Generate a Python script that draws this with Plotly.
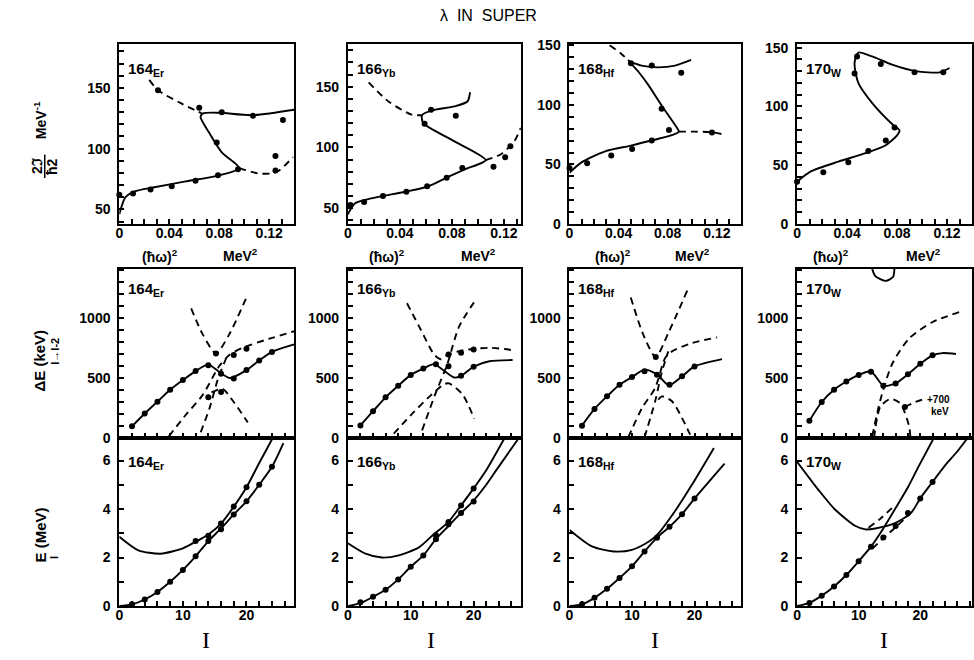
import plotly.graph_objects as go

# ---------------- row 1 : 2J/hbar^2 (MeV^-1) vs (hbar omega)^2 (MeV^2) ----------------
er_j_pts = [(0.000, 62), (0.011, 63), (0.025, 66.4), (0.042, 69), (0.061, 73.6), (0.079, 78),
            (0.095, 83), (0.078, 105), (0.064, 133.6), (0.031, 148), (0.082, 130), (0.107, 127),
            (0.131, 123.5), (0.125, 94), (0.125, 82)]
er_j_solid = [(0.000, 46), (0.005, 60), (0.013, 65), (0.027, 68), (0.053, 73), (0.080, 78), (0.096, 84),
              (0.082, 97), (0.072, 113), (0.065, 126), (0.067, 129), (0.080, 129.5), (0.106, 127.5),
              (0.140, 132)]
er_j_dash_up = [(0.024, 156.6), (0.031, 148), (0.050, 137), (0.066, 129)]
er_j_dash_lo = [(0.096, 84), (0.111, 79.6), (0.122, 79.6), (0.128, 82), (0.139, 93)]

yb_j_pts = [(0.002, 52.7), (0.0125, 55), (0.027, 60), (0.045, 63.5), (0.061, 68), (0.076, 75),
            (0.088, 83), (0.112, 84), (0.121, 92), (0.125, 101), (0.059, 119.5), (0.064, 131),
            (0.083, 126)]
yb_j_solid = [(0.000, 45), (0.0056, 54), (0.018, 58), (0.044, 63.5), (0.062, 68), (0.077, 75.7),
              (0.090, 82), (0.106, 89.5), (0.082, 105), (0.058, 120), (0.057, 126.5), (0.064, 130.3),
              (0.082, 133.8), (0.092, 137.8), (0.094, 145.4)]
yb_j_dash_up = [(0.016, 153.5), (0.031, 138), (0.049, 127), (0.057, 126.5)]
yb_j_dash_lo = [(0.106, 89.5), (0.118, 94.6), (0.128, 105), (0.133, 116)]

hf_j_pts = [(0.000, 47), (0.0144, 51), (0.034, 57.5), (0.051, 63), (0.067, 70), (0.081, 79),
            (0.075, 96.7), (0.050, 135), (0.067, 133), (0.091, 127), (0.116, 76.7)]
hf_j_solid = [(0.000, 43), (0.0095, 51.5), (0.029, 61), (0.050, 65.8), (0.069, 70.7), (0.084, 74.8),
              (0.089, 77.5), (0.086, 83), (0.075, 99.5), (0.064, 117), (0.056, 128), (0.0498, 135.6),
              (0.0585, 133), (0.072, 131.5), (0.086, 133), (0.099, 137.8)]
hf_j_dash_up = [(0.0327, 150), (0.042, 143), (0.0498, 135.6)]
hf_j_dash_lo = [(0.089, 77.5), (0.102, 77.5), (0.116, 77), (0.125, 75.3)]

w_j_pts = [(0.000, 36), (0.021, 44), (0.041, 52.5), (0.057, 62), (0.071, 71), (0.078, 82),
           (0.046, 128), (0.048, 142.5), (0.067, 136), (0.094, 129), (0.117, 129)]
w_j_solid = [(0.000, 36), (0.011, 44.7), (0.033, 53), (0.054, 60), (0.071, 67), (0.080, 75.4),
             (0.082, 79.6), (0.076, 85), (0.060, 103), (0.049, 120), (0.046, 137), (0.049, 145.8),
             (0.060, 142.5), (0.076, 135.5), (0.095, 130), (0.114, 129), (0.122, 132.7)]

# ---------------- row 2 : Delta E (keV), I -> I-2, vs I ----------------
er_de_pts = [(2, 97), (4, 204), (6, 303), (8, 402), (10, 483), (12, 558), (14, 606), (16, 536),
             (18, 496), (20, 566), (22, 646), (24, 718),
             (14, 340), (16, 383), (18, 692), (20, 745), (15.2, 705)]
er_de_solid = [(2, 97), (4, 204), (6, 303), (8, 402), (10, 483), (12, 558), (14, 612), (16, 540),
               (17.4, 500), (20, 566), (22, 646), (24, 718), (27.5, 780)]
er_de_dash_v = [(11.3, 1080), (13.1, 866), (15.2, 705), (17.3, 866), (19.9, 1160)]
er_de_dash_a = [(7.8, 15), (10.5, 196), (13.1, 357), (15.7, 598), (17.3, 692), (19.4, 753),
                (23.5, 826), (27.5, 890)]
er_de_dash_b = [(12.8, 48), (14.2, 250), (15.5, 490), (16.8, 665)]
er_de_dash_c = [(14.5, 380), (16.2, 410), (18.0, 300), (20.2, 130)]

yb_de_pts = [(2, 105), (4, 223), (6, 339), (8, 435), (10, 526), (12, 579), (14, 614), (16, 598),
             (18, 518), (20, 595), (16, 697), (18, 711), (20, 738)]
yb_de_solid = [(2, 105), (4, 223), (6, 339), (8, 435), (10, 526), (12, 579), (13.7, 616), (15.3, 560),
               (16.9, 504), (18, 518), (20, 595), (22.5, 640), (26.2, 650)]
yb_de_dash_v = [(9.4, 1124), (11.6, 903), (13.7, 697), (14.8, 656), (15.8, 691), (18.2, 730),
                (22.5, 752), (26.2, 733)]
yb_de_dash_a = [(7.3, 36), (10.2, 201), (13.4, 366), (15.3, 449), (16.1, 455), (18.2, 366), (20.1, 160)]
yb_de_dash_b = [(11.8, 63), (13.9, 366), (15.8, 614), (17.7, 931), (20.5, 1165)]

hf_de_pts = [(2, 103), (4, 242), (6, 347), (8, 444), (10, 508), (12, 556), (14, 528), (16, 444),
             (18, 514), (20, 597), (13.8, 675)]
hf_de_solid = [(2, 103), (4, 242), (6, 347), (8, 444), (10, 508), (12, 570), (14, 530), (15.9, 439),
               (18, 514), (20, 597), (24.4, 658)]
hf_de_dash_v = [(9.8, 1172), (11.8, 861), (13.8, 675), (15.8, 875), (18.9, 1236)]
hf_de_dash_a = [(9.4, 6), (11.6, 250), (13.7, 417), (15.3, 667), (16.4, 722), (19.6, 792), (23.6, 839)]
hf_de_dash_b = [(12.0, 6), (13.7, 306), (14.8, 556), (15.8, 722)]
hf_de_dash_c = [(14.2, 320), (14.8, 347), (16.4, 306), (19.3, 28)]

w_de_pts = [(2, 144), (4, 300), (6, 403), (8, 471), (10, 526), (12, 553), (14, 436), (16, 455),
            (18, 531), (20, 619), (22, 689), (17.5, 259)]
w_de_solid = [(2, 144), (4, 300), (6, 403), (8, 471), (10, 526), (12, 556), (14, 436), (16, 455),
              (18, 531), (20, 619), (22, 689), (23.6, 708), (25.8, 700)]
w_de_dash_a = [(12.2, 14), (13.5, 313), (15.4, 613), (18.2, 831), (22.0, 967), (26.3, 1049)]
w_de_dash_b = [(12.5, 0), (13.5, 259), (15.2, 327), (16.8, 286), (18.2, 95), (18.4, 0)]
w_de_pointer = [(17.5, 259), (19.2, 300), (21.0, 330)]
w_de_top = [(12.2, 1410), (12.7, 1350), (14.4, 1310), (15.6, 1345), (15.8, 1410)]

# ---------------- row 3 : E_I (MeV) vs I ----------------
er_e_pts = [(2, 0.07), (4, 0.27), (6, 0.58), (8, 1.0), (10, 1.49), (12, 2.05), (14, 2.68), (16, 3.17),
            (18, 3.78), (20, 4.32), (22, 5.0), (24, 5.74),
            (12, 2.68), (14, 2.9), (16, 3.4), (18, 4.1), (20, 4.9)]
er_e_ground = [(0, 0), (2, 0.07), (4, 0.27), (6, 0.58), (8, 1.0), (10, 1.49), (12, 2.05), (14, 2.68),
               (16, 3.2), (18, 3.78), (20, 4.32), (22, 5.0), (24, 5.74), (25.8, 6.72)]
er_e_band = [(0, 2.86), (3, 2.3), (6.5, 2.16), (10, 2.38), (12, 2.65), (14, 2.95), (16, 3.4),
             (18, 4.1), (20, 4.9), (22, 5.9), (24.1, 6.92)]

yb_e_pts = [(2, 0.16), (4, 0.38), (6, 0.67), (8, 1.1), (10, 1.62), (12, 2.09), (14, 2.76), (16, 3.37),
            (18, 3.84), (20, 4.31), (14, 2.92), (16, 3.47), (18, 4.15), (20, 4.85)]
yb_e_ground = [(0, 0), (2, 0.12), (4, 0.38), (6, 0.67), (8, 1.1), (10, 1.62), (12, 2.09), (14, 2.76),
               (16, 3.3), (18, 3.84), (20, 4.35), (22, 5.0), (24, 5.75), (27, 6.86)]
yb_e_band = [(0, 2.59), (2.8, 2.16), (5.4, 2.0), (8.1, 2.09), (11.3, 2.42), (13.4, 2.9), (16, 3.47),
             (18, 4.15), (20, 4.85), (22, 5.6), (24.9, 6.92)]

hf_e_pts = [(2, 0.07), (4, 0.34), (6, 0.71), (8, 1.16), (10, 1.64), (12, 2.25), (14, 2.82), (16, 3.27),
            (18, 3.79), (20, 4.43)]
hf_e_ground = [(0, 0), (2, 0.07), (4, 0.34), (6, 0.71), (8, 1.16), (10, 1.64), (12, 2.25), (14, 2.82),
               (16, 3.27), (18, 3.79), (20, 4.43), (24.8, 5.87)]
hf_e_band = [(0, 3.14), (3.6, 2.46), (7.1, 2.25), (10, 2.32), (12.7, 2.66), (14, 2.93), (17, 3.96),
             (19.7, 5.05), (23.1, 6.52)]

w_e_pts = [(2, 0.13), (4, 0.43), (6, 0.81), (8, 1.28), (10, 1.85), (12, 2.45), (14, 2.83), (16, 3.3),
           (18, 3.84), (20, 4.44), (22, 5.12)]
w_e_steep = [(0, 0), (2, 0.13), (4, 0.43), (6, 0.81), (8, 1.28), (10, 1.85), (12, 2.45), (14, 3.2),
             (16, 4.04), (18, 4.9), (19.8, 5.79), (22.2, 6.93)]
w_e_band = [(0, 5.95), (3.5, 4.78), (6.2, 3.97), (9.5, 3.3), (11.1, 3.16), (12.7, 3.2), (16, 3.43),
            (18.5, 3.84), (20, 4.44), (22, 5.12), (24.2, 5.85), (25.8, 6.31), (27.6, 6.9)]
w_e_dash_a = [(11.6, 3.23), (13.5, 3.6), (15.4, 4.04)]
w_e_dash_b = [(12.2, 2.36), (14, 2.8), (16, 3.25), (18.2, 3.77)]

nuclei = ["164", "166", "168", "170"]
elements = ["Er", "Yb", "Hf", "W"]

# (row, col, points, solid curves, dashed curves)
panels = [
    (0, 0, er_j_pts, [er_j_solid], [er_j_dash_up, er_j_dash_lo]),
    (0, 1, yb_j_pts, [yb_j_solid], [yb_j_dash_up, yb_j_dash_lo]),
    (0, 2, hf_j_pts, [hf_j_solid], [hf_j_dash_up, hf_j_dash_lo]),
    (0, 3, w_j_pts, [w_j_solid], []),
    (1, 0, er_de_pts, [er_de_solid], [er_de_dash_v, er_de_dash_a, er_de_dash_b, er_de_dash_c]),
    (1, 1, yb_de_pts, [yb_de_solid], [yb_de_dash_v, yb_de_dash_a, yb_de_dash_b]),
    (1, 2, hf_de_pts, [hf_de_solid], [hf_de_dash_v, hf_de_dash_a, hf_de_dash_b, hf_de_dash_c]),
    (1, 3, w_de_pts, [w_de_solid, w_de_top], [w_de_dash_a, w_de_dash_b, w_de_pointer]),
    (2, 0, er_e_pts, [er_e_ground, er_e_band], []),
    (2, 1, yb_e_pts, [yb_e_ground, yb_e_band], []),
    (2, 2, hf_e_pts, [hf_e_ground, hf_e_band], []),
    (2, 3, w_e_pts, [w_e_steep, w_e_band], [w_e_dash_a, w_e_dash_b]),
]

W, H = 974, 660
cols_px = [(116, 292), (346, 520), (569, 742), (798, 974)]
rows_px = [(38, 222), (268, 441), (441, 613)]
FONT = "Liberation Sans"

fig = go.Figure()


def suffix(r, c):
    n = r * 4 + c + 1
    return "" if n == 1 else str(n)


def add_line(r, c, pts, dash=None):
    s = suffix(r, c)
    xs, ys = zip(*pts)
    fig.add_trace(go.Scatter(
        x=xs, y=ys, mode="lines", xaxis="x" + s, yaxis="y" + s,
        line=dict(color="black", width=1.9, dash=dash, shape="spline", smoothing=0.7),
        hoverinfo="skip", showlegend=False))


for r, c, pts, solids, dashes in panels:
    for cur in solids:
        add_line(r, c, cur)
    for cur in dashes:
        add_line(r, c, cur, dash="7px,5px")
    s = suffix(r, c)
    xs, ys = zip(*pts)
    fig.add_trace(go.Scatter(
        x=xs, y=ys, mode="markers", xaxis="x" + s, yaxis="y" + s, cliponaxis=False,
        marker=dict(color="black", size=6), hoverinfo="skip", showlegend=False))


def small_ticks(step, stop):
    vals = []
    k = 0
    while k * step <= stop + 1e-9:
        vals.append(round(k * step, 4))
        k += 1
    return dict(tickmode="array", tickvals=vals, ticks="inside", ticklen=5, tickwidth=1.5,
                tickcolor="black", showgrid=False)


axis_style = dict(showline=True, linecolor="black", linewidth=2, mirror=True, ticks="inside",
                  ticklen=5, tickwidth=1.5, tickcolor="black", showgrid=False, zeroline=False,
                  tickmode="array",
                  tickfont=dict(family=FONT, size=14, color="black", weight="bold"))

j_xrange = [[0, 0.14], [0, 0.133], [0, 0.14], [0, 0.14]]
j_yrange = [[38, 186], [37, 185], [0, 151], [0, 153]]
i_xrange = [[0, 27.5], [0, 27.5], [0, 27.5], [0, 28.4]]

layout = {}
for r in range(3):
    for c in range(4):
        s = suffix(r, c)
        x0, x1 = cols_px[c]
        y0, y1 = rows_px[r]
        xa = dict(axis_style, domain=[x0 / W, x1 / W], anchor="y" + s, ticklabelstandoff=-5)
        ya = dict(axis_style, domain=[1 - y1 / H, 1 - y0 / H], anchor="x" + s, ticklabelstandoff=4)
        if r == 0:
            xa.update(range=j_xrange[c], tickvals=[0, 0.04, 0.08, 0.12],
                      ticktext=["0", "0.04", "0.08", "0.12"], minor=small_ticks(0.01, j_xrange[c][1]))
            yl = [50, 100, 150] if c < 2 else [0, 50, 100, 150]
            ya.update(range=j_yrange[c], tickvals=yl, minor=small_ticks(10, j_yrange[c][1]))
        elif r == 1:
            xa.update(range=i_xrange[c], showticklabels=False, tickvals=[0, 10, 20],
                      minor=small_ticks(2, i_xrange[c][1]))
            ya.update(range=[0, 1410], tickvals=[0, 500, 1000], minor=small_ticks(100, 1400))
        else:
            xa.update(range=i_xrange[c], tickvals=[0, 10, 20], minor=small_ticks(2, i_xrange[c][1]))
            ya.update(range=[0, 6.93], tickvals=[0, 2, 4, 6], minor=small_ticks(1, 6.9))
        layout["xaxis" + s] = xa
        layout["yaxis" + s] = ya


def px_note(x, y, text, size=14, angle=0, xanchor="center", family=FONT, weight="bold"):
    return dict(x=x / W, y=1 - y / H, xref="paper", yref="paper", text=text, showarrow=False,
                xanchor=xanchor, yanchor="middle", textangle=angle,
                font=dict(family=family, size=size, color="black", weight=weight))


notes = [px_note(487, 9, "λ  IN  SUPER", size=16, weight="normal")]
label_y = [64, 289, 466]
for c in range(4):
    for r in range(3):
        notes.append(px_note(cols_px[c][0] + 7, label_y[r],
                             nuclei[c] + "<sub>" + elements[c] + "</sub>", size=15, xanchor="left"))
hw_x = [(157, 238), (385, 477), (613, 693), (832, 925)]
for a, b in hw_x:
    notes.append(px_note(a, 255, "(ħω)<sup>2</sup>", size=14))
    notes.append(px_note(b, 254, "MeV<sup>2</sup>", size=14))
for x in [203, 430, 655, 885]:
    notes.append(px_note(x, 648, "I", size=24, family="Liberation Serif", weight="normal"))

# axis titles on the left
notes.append(px_note(37, 116, "MeV<sup>-1</sup>", size=14, angle=-90))
notes.append(px_note(33, 163, "2ℑ", size=14, angle=-90))
notes.append(px_note(49, 163, "ħ2", size=14, angle=-90))
notes.append(px_note(36, 362, "ΔE (keV)", size=15, angle=-90))
notes.append(px_note(51, 352, "I→I-2", size=11, angle=-90))
notes.append(px_note(37, 540, "E (MeV)", size=15, angle=-90))
notes.append(px_note(51, 563, "I", size=11, angle=-90))
notes.append(px_note(940, 402, "+700", size=10))
notes.append(px_note(942, 414, "keV", size=10))

fig.update_layout(
    width=W, height=H, autosize=False,
    margin=dict(l=0, r=0, t=0, b=0),
    paper_bgcolor="white", plot_bgcolor="white",
    showlegend=False,
    annotations=notes,
    shapes=[dict(type="line", xref="paper", yref="paper", x0=41 / W, x1=41 / W,
                 y0=1 - 175 / H, y1=1 - 151 / H, line=dict(color="black", width=1.5))],
    **layout,
)

fig.write_html("out.html", config={"displayModeBar": False},
               post_script="document.body.style.margin='0';document.body.style.overflow='hidden';")
